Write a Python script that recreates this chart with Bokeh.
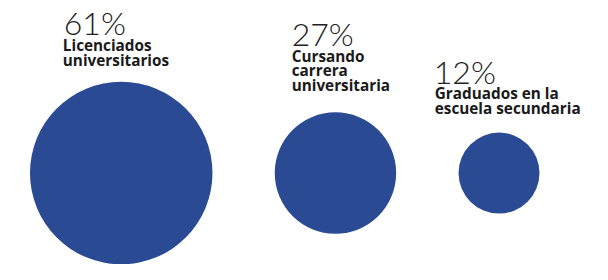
from bokeh.plotting import figure
from bokeh.models import Range1d, ColumnDataSource
from bokeh.core.properties import value
from bokeh.embed import file_html
from bokeh.resources import INLINE
import math

# ---- data ----
percentages = [61, 27, 12]
pct_labels = ["61%", "27%", "12%"]
categories = ["Licenciados\nuniversitarios",
              "Cursando\ncarrera\nuniversitaria",
              "Graduados en la\nescuela secundaria"]

# ---- layout (reference pixel coordinates, 608x280 space) ----
cx = [124, 344, 512]
cy = [183, 183, 183]
scale = 12.0
radii = [scale * math.sqrt(v) for v in percentages]
pct_x = [65, 299, 445]
pct_y = [34, 46, 86]
lab_x = [64, 299, 446]
lab_y = [54, 65, 105]
line_h = 15.5
pct_shift = -10.8   # baseline correction for the large numbers
lab_shift = -6.4    # baseline correction for the labels

W, H = 592, 264
p = figure(width=W, height=H, output_backend="svg", toolbar_location=None,
           x_range=Range1d(0, 608), y_range=Range1d(280, 0),
           min_border=0, outline_line_color=None)
p.axis.visible = False
p.grid.visible = False
p.background_fill_color = "white"
p.border_fill_color = "white"

src = ColumnDataSource(dict(x=cx, y=cy, r=radii))
p.circle(x="x", y="y", radius="r", source=src, fill_color="#2a4a94",
         line_color=None)

p.text(x=pct_x, y=[v + pct_shift for v in pct_y], text=pct_labels,
       text_font=value("Lato Light"),
       text_font_size="32px", text_color="#222222",
       text_baseline="alphabetic", text_align="left")

lx, ly, lt = [], [], []
for x0, y0, cat in zip(lab_x, lab_y, categories):
    for i, line in enumerate(cat.split("\n")):
        lx.append(x0)
        ly.append(y0 + lab_shift + i * line_h)
        lt.append(line)

p.text(x=lx, y=ly, text=lt, text_font=value("Open Sans"),
       text_font_style="bold", text_font_size="15.3px", text_color="#1a1a1a",
       text_baseline="alphabetic", text_align="left")

open("out.html", "w").write(file_html(p, INLINE))
